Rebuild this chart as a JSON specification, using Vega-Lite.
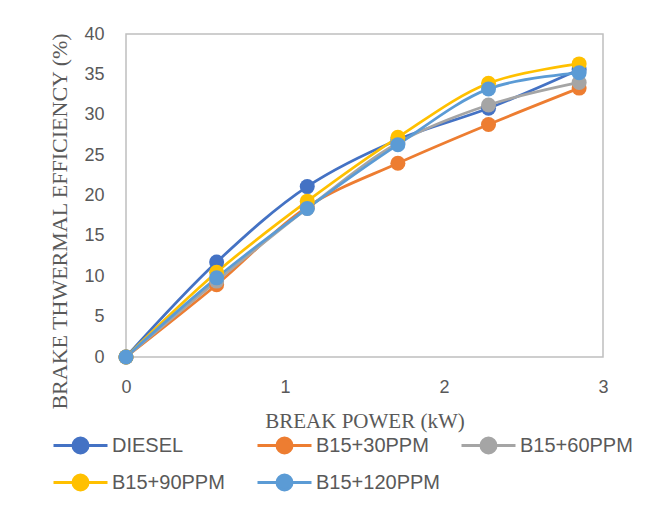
{
  "$schema": "https://vega.github.io/schema/vega-lite/v6.json",
  "width": 477,
  "height": 323,
  "autosize": {"type": "none"},
  "padding": {"left": 126, "top": 34, "right": 53, "bottom": 153},
  "background": "white",
  "config": {
    "view": {"stroke": "#bfbfbf", "strokeWidth": 1.5},
    "axis": {"grid": false, "ticks": false, "domain": false, "labelColor": "#595959", "labelFont": "Liberation Sans", "labelFontSize": 18, "titleColor": "#595959", "titleFont": "Liberation Serif", "titleFontSize": 21, "titleFontWeight": "normal"}
  },
  "data": {
    "values": [
      {"bp": 0, "bte": 0, "fuel": "DIESEL"},
      {"bp": 0.57, "bte": 11.75, "fuel": "DIESEL"},
      {"bp": 1.14, "bte": 21.1, "fuel": "DIESEL"},
      {"bp": 1.71, "bte": 26.9, "fuel": "DIESEL"},
      {"bp": 2.28, "bte": 30.8, "fuel": "DIESEL"},
      {"bp": 2.85, "bte": 35.6, "fuel": "DIESEL"},
      {"bp": 0, "bte": 0, "fuel": "B15+30PPM"},
      {"bp": 0.57, "bte": 8.95, "fuel": "B15+30PPM"},
      {"bp": 1.14, "bte": 18.6, "fuel": "B15+30PPM"},
      {"bp": 1.71, "bte": 24.0, "fuel": "B15+30PPM"},
      {"bp": 2.28, "bte": 28.8, "fuel": "B15+30PPM"},
      {"bp": 2.85, "bte": 33.3, "fuel": "B15+30PPM"},
      {"bp": 0, "bte": 0, "fuel": "B15+60PPM"},
      {"bp": 0.57, "bte": 9.4, "fuel": "B15+60PPM"},
      {"bp": 1.14, "bte": 18.4, "fuel": "B15+60PPM"},
      {"bp": 1.71, "bte": 26.5, "fuel": "B15+60PPM"},
      {"bp": 2.28, "bte": 31.2, "fuel": "B15+60PPM"},
      {"bp": 2.85, "bte": 34.0, "fuel": "B15+60PPM"},
      {"bp": 0, "bte": 0, "fuel": "B15+90PPM"},
      {"bp": 0.57, "bte": 10.5, "fuel": "B15+90PPM"},
      {"bp": 1.14, "bte": 19.3, "fuel": "B15+90PPM"},
      {"bp": 1.71, "bte": 27.2, "fuel": "B15+90PPM"},
      {"bp": 2.28, "bte": 33.9, "fuel": "B15+90PPM"},
      {"bp": 2.85, "bte": 36.3, "fuel": "B15+90PPM"},
      {"bp": 0, "bte": 0, "fuel": "B15+120PPM"},
      {"bp": 0.57, "bte": 9.8, "fuel": "B15+120PPM"},
      {"bp": 1.14, "bte": 18.4, "fuel": "B15+120PPM"},
      {"bp": 1.71, "bte": 26.3, "fuel": "B15+120PPM"},
      {"bp": 2.28, "bte": 33.2, "fuel": "B15+120PPM"},
      {"bp": 2.85, "bte": 35.2, "fuel": "B15+120PPM"}
    ]
  },
  "mark": {"type": "line", "interpolate": "catmull-rom", "strokeWidth": 2.75, "point": {"filled": true, "size": 225, "opacity": 1}},
  "encoding": {
    "x": {"field": "bp", "type": "quantitative", "scale": {"domain": [0, 3], "nice": false}, "axis": {"values": [0, 1, 2, 3], "labelFlush": false, "labelPadding": 21, "title": "BREAK POWER (kW)", "titlePadding": 14}},
    "y": {"field": "bte", "type": "quantitative", "scale": {"domain": [0, 40], "nice": false}, "axis": {"values": [0, 5, 10, 15, 20, 25, 30, 35, 40], "labelFlush": false, "labelPadding": 22, "title": "BRAKE THWERMAL EFFICIENCY (%)", "titleFontSize": 22, "titleY": 187, "titlePadding": 12}},
    "color": {
      "field": "fuel", "type": "nominal",
      "scale": {"domain": ["DIESEL", "B15+30PPM", "B15+60PPM", "B15+90PPM", "B15+120PPM"], "range": ["#4472C4", "#ED7D31", "#A5A5A5", "#FFC000", "#5B9BD5"]},
      "legend": {
        "title": null, "orient": "none", "direction": "horizontal", "legendX": -62, "legendY": 395, "columns": 3, "gridAlign": "all", "columnPadding": 15, "rowPadding": 7,
        "symbolType": "M-1.8,0H1.8M-0.5,0A0.5,0.5 0 1,0 0.5,0A0.5,0.5 0 1,0 -0.5,0Z",
        "symbolSize": 900, "symbolStrokeWidth": 3, "symbolFillOpacity": 1, "symbolOpacity": 1,
        "labelFont": "Liberation Sans", "labelFontSize": 20, "labelColor": "#595959", "labelOffset": 15, "labelLimit": 200
      }
    },
    "order": {"field": "bp", "type": "quantitative"}
  }
}
